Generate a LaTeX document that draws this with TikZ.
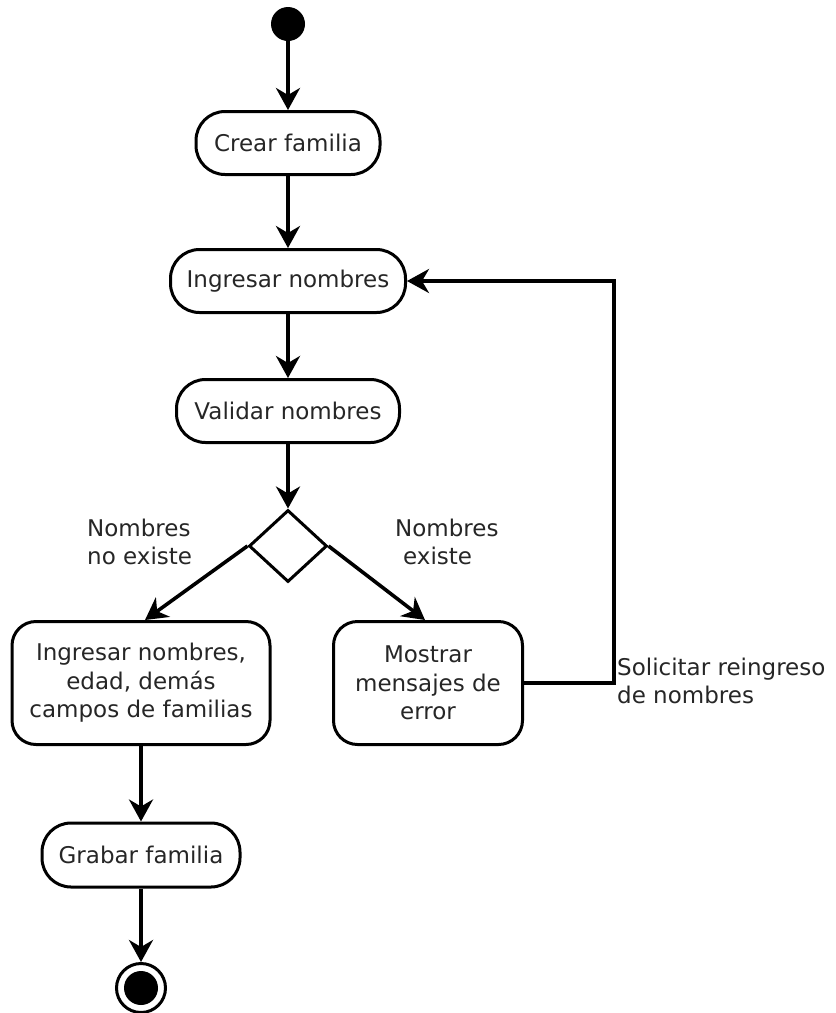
\documentclass[tikz,border=0pt]{standalone}
\usepackage{fontspec}
\setmainfont{DejaVu Sans}
\usetikzlibrary{arrows.meta,shapes.geometric}
\begin{document}
\begin{tikzpicture}[x=1pt,y=-1pt,
  lbl/.style={font=\fontsize{23}{28.5}\selectfont, text=black!85, inner sep=0pt},
  act/.style={lbl, draw=black, line width=3pt, rounded corners=29pt, align=center},
  actbig/.style={lbl, draw=black, line width=3pt, rounded corners=24pt, align=center},
  flow/.style={line width=3.6pt, -{Stealth[length=22pt,width=24pt,inset=7pt]}},
  decision/.style={draw=black, line width=3pt, diamond, inner sep=0pt}
]
\useasboundingbox (0,0) rectangle (836,1013);

% start and end markers
\node[circle, fill=black, minimum size=34pt, inner sep=0pt] (start) at (288,24) {};
\node[circle, draw=black, line width=3pt, minimum size=49pt, inner sep=0pt] (end) at (141,988) {};
\fill[black] (end.center) circle (17pt);

% activities
\node[act, minimum width=184pt, minimum height=63pt] (crear) at (288,143) {Crear familia};
\node[act, minimum width=235pt, minimum height=63pt] (ingresar) at (288,281) {Ingresar nombres};
\node[act, minimum width=223pt, minimum height=63pt] (validar) at (288,411) {Validar nombres};
\node[decision, minimum width=78pt, minimum height=72pt] (dec) at (288,546) {};
\node[actbig, minimum width=258pt, minimum height=123pt] (datos) at (141,683)
  {Ingresar nombres,\\edad, demás\\campos de familias};
\node[actbig, minimum width=189pt, minimum height=123pt] (error) at (428,683)
  {Mostrar\\mensajes de\\error};
\node[act, minimum width=198pt, minimum height=64pt] (grabar) at (141,855) {Grabar familia};

% guard and flow labels
\node[lbl, anchor=west, align=left] (gno) at (87,542) {Nombres\\no existe};
\node[lbl, anchor=west, align=left] (gsi) at (395,542) {Nombres\\\hspace*{8pt}existe};
\node[lbl, anchor=west, align=left] (retry) at (617,681) {Solicitar reingreso\\de nombres};

% connectors
\coordinate (loop) at (614,683);
\draw[flow] (start) -- (crear);
\draw[flow] (crear) -- (ingresar);
\draw[flow] (ingresar) -- (validar);
\draw[flow] (validar) -- (dec);
\draw[flow] (dec.west) -- ([xshift=4pt]datos.north);
\draw[flow] (dec.east) -- ([xshift=-3pt]error.north);
\draw[flow] (error.east) -- (loop) |- (ingresar.east);
\draw[flow] (datos) -- (grabar);
\draw[flow] (grabar) -- (end);
\end{tikzpicture}
\end{document}
